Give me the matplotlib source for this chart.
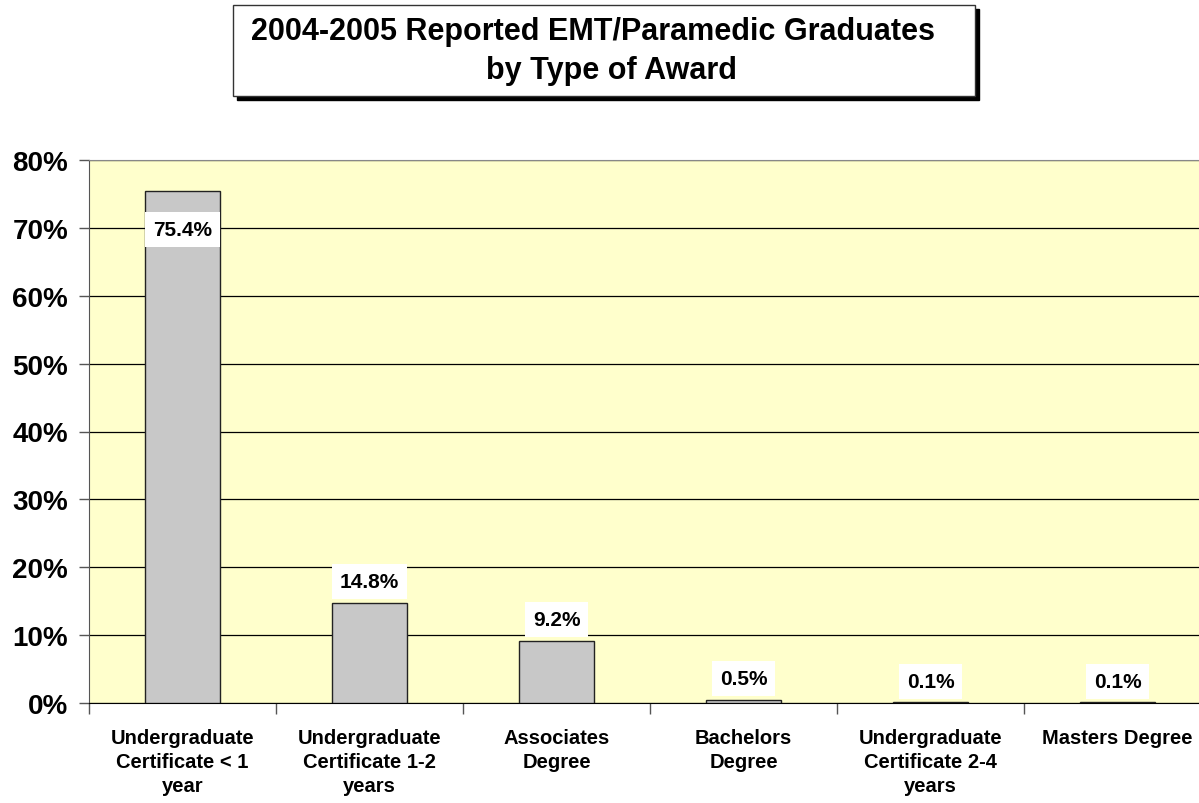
import numpy as np
import matplotlib.pyplot as plt
from matplotlib.patches import Rectangle
from matplotlib.ticker import FixedLocator

plt.rcParams['font.family'] = ['Liberation Sans', 'DejaVu Sans']
plt.rcParams['font.weight'] = 'bold'

# Data
categories = ['Undergraduate\nCertificate < 1\nyear', 'Undergraduate\nCertificate 1-2\nyears',
              'Associates\nDegree', 'Bachelors\nDegree', 'Undergraduate\nCertificate 2-4\nyears',
              'Masters Degree']
values = [75.4, 14.8, 9.2, 0.5, 0.1, 0.1]
labels = ['75.4%', '14.8%', '9.2%', '0.5%', '0.1%', '0.1%']
y_ticks = [0, 10, 20, 30, 40, 50, 60, 70, 80]

W, H = 1199, 804
fig = plt.figure(figsize=(W / 100, H / 100), dpi=100)
fig.patch.set_facecolor('white')

# plot area (runs off the right edge like the original)
ax = fig.add_axes([89 / W, 100 / H, 1122 / W, 543 / H])
ax.set_facecolor('#FFFFCC')
x = np.arange(len(categories))
ax.bar(x, values, width=0.4, color='#C8C8C8', edgecolor='#222222', linewidth=1, zorder=3)

ax.set_xlim(-0.5, len(categories) - 0.5)
ax.set_ylim(0, 80)
ax.set_yticks(y_ticks)
ax.set_yticklabels([f'{v}%' for v in y_ticks], fontsize=20, fontweight='bold')
ax.yaxis.grid(True, color='black', linewidth=0.9, zorder=1)
ax.set_axisbelow(True)

ax.set_xticks(x)
ax.set_xticklabels(categories, fontsize=14.5, fontweight='bold', linespacing=1.35)
ax.tick_params(axis='x', which='major', length=0, pad=18)
ax.xaxis.set_minor_locator(FixedLocator(np.arange(-0.5, len(categories), 1.0)))
ax.tick_params(axis='x', which='minor', length=8, width=1, color='#555555', direction='out')
ax.tick_params(axis='y', length=7, width=1, color='#555555', direction='out', pad=8)

ax.spines['top'].set_color('#888888')
ax.spines['left'].set_color('#555555')
ax.spines['bottom'].set_color('black')
ax.spines['right'].set_visible(False)

# value labels in white boxes
for xi, v, lab in zip(x, values, labels):
    if v > 70:
        off = -38
    else:
        off = 21
    ax.annotate(lab, (xi, v), xytext=(0, off), textcoords='offset pixels',
                ha='center', va='center', fontsize=15, fontweight='bold', zorder=5,
                bbox=dict(boxstyle='square,pad=0.38', fc='white', ec='none'))

# title box with shadow
bx0, bx1, by0, by1 = 233, 975, 6, 97
fig.patches.append(Rectangle(((bx0 + 4) / W, 1 - (by1 + 4) / H), (bx1 - bx0) / W, (by1 - by0) / H,
                             transform=fig.transFigure, facecolor='black', edgecolor='black', zorder=1))
fig.patches.append(Rectangle((bx0 / W, 1 - by1 / H), (bx1 - bx0) / W, (by1 - by0) / H,
                             transform=fig.transFigure, facecolor='white', edgecolor='#333333',
                             linewidth=1, zorder=2))
fig.text(593 / W, 1 - 32 / H, '2004-2005 Reported EMT/Paramedic Graduates',
         ha='center', va='center', fontsize=22, fontweight='bold', zorder=3)
fig.text(611 / W, 1 - 71 / H, 'by Type of Award',
         ha='center', va='center', fontsize=22, fontweight='bold', zorder=3)

fig.savefig('out.png', dpi=100)
